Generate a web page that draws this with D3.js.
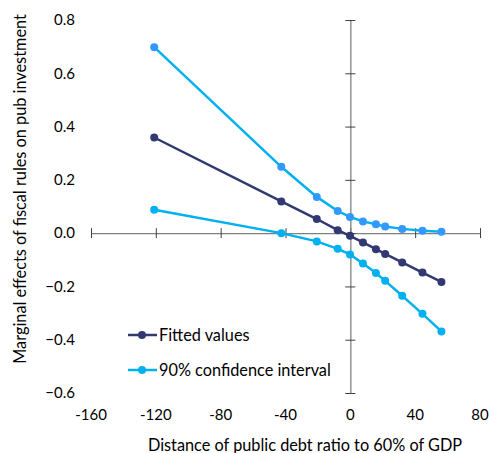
<!DOCTYPE html>
<html>
<head>
<meta charset="utf-8">
<script src="https://cdn.jsdelivr.net/npm/d3@7"></script>
<style>
  body { margin: 0; background: #fff; }
  text { font-family: Lato, "Open Sans", sans-serif; fill: #000; }
</style>
</head>
<body>
<div id="chart-container"></div>
<script>
// distance of debt ratio to 60% of GDP
const xVals = [-121, -42.6, -20.7, -7.8, -0.2, 7.8, 15.8, 21.5, 32, 44.5, 56.2];
const fitted = [0.359, 0.119, 0.053, 0.011, -0.01, -0.035, -0.06, -0.078, -0.11, -0.148, -0.183];
const upperCI = [0.698, 0.249, 0.136, 0.083, 0.061, 0.044, 0.033, 0.025, 0.016, 0.009, 0.005];
const lowerCI = [0.088, 0.0, -0.031, -0.059, -0.08, -0.114, -0.15, -0.179, -0.235, -0.303, -0.369];

const xTicks = [-160, -120, -80, -40, 0, 40, 80];
const yTicks = [0.8, 0.6, 0.4, 0.2, 0.0, -0.2, -0.4, -0.6];

const W = 489, H = 453;
const navy = "#313872", cyan = "#00b0f0", blueDot = "#3399ff";

const svg = d3.select("#chart-container")
    .append("svg")
    .attr("width", W)
    .attr("height", H);

const x = d3.scaleLinear().domain([-160, 80]).range([91, 480]);
const y = d3.scaleLinear().domain([-0.6, 0.8]).range([393, 20]);

// x axis line through zero, ticks crossing
svg.append("g")
    .attr("transform", `translate(0,${y(0) - 5})`)
    .call(d3.axisBottom(x).tickValues(xTicks).tickSize(10).tickSizeOuter(0).tickFormat(""))
    .call(g => g.select(".domain").attr("transform", "translate(0,5)").attr("stroke", "#808080").attr("stroke-width", 1.3))
    .call(g => g.selectAll(".tick line").attr("stroke", "#404040"));

// y axis line through zero
svg.append("g")
    .attr("transform", `translate(${x(0) + 5},0)`)
    .call(d3.axisLeft(y).tickValues(yTicks).tickSize(10).tickSizeOuter(0).tickFormat(""))
    .call(g => g.select(".domain").attr("transform", "translate(-5,0)").attr("stroke", "#808080").attr("stroke-width", 1.3))
    .call(g => g.selectAll(".tick line").attr("stroke", "#404040"));

// tick labels sit at the low end
svg.append("g").selectAll("text")
    .data(yTicks)
    .enter()
    .append("text")
    .attr("x", 75)
    .attr("y", d => y(d))
    .attr("dy", "0.35em")
    .attr("text-anchor", "end")
    .style("font-size", "15px")
    .text(d => d3.format(".1f")(d));

svg.append("g").selectAll("text")
    .data(xTicks)
    .enter()
    .append("text")
    .attr("x", d => x(d))
    .attr("y", 415)
    .attr("dy", "0.35em")
    .attr("text-anchor", "middle")
    .style("font-size", "15px")
    .text(d => d);

svg.append("text")
    .attr("x", 305)
    .attr("y", 445)
    .attr("dy", "0.35em")
    .attr("text-anchor", "middle")
    .style("font-size", "16.3px")
    .text("Distance of public debt ratio to 60% of GDP");

svg.append("text")
    .attr("transform", "translate(20,189) rotate(-90)")
    .attr("dy", "0.35em")
    .attr("text-anchor", "middle")
    .style("font-size", "16.3px")
    .text("Marginal effects of fiscal rules on pub investment");

const line = d3.line().x(d => x(d[0])).y(d => y(d[1]));

const series = [
    {vals: upperCI, stroke: cyan, dot: blueDot},
    {vals: lowerCI, stroke: cyan, dot: cyan},
    {vals: fitted, stroke: navy, dot: navy}
];

series.forEach(s => {
    const pts = xVals.map((v, i) => [v, s.vals[i]]);
    svg.append("path")
        .datum(pts)
        .attr("d", line)
        .attr("fill", "none")
        .attr("stroke", s.stroke)
        .attr("stroke-width", 2.5);
    svg.append("g").selectAll("circle")
        .data(pts)
        .enter()
        .append("circle")
        .attr("cx", d => x(d[0]))
        .attr("cy", d => y(d[1]))
        .attr("r", 4)
        .attr("fill", s.dot);
});

// legend
const legend = [
    {label: "Fitted values", color: navy, y: 335},
    {label: "90% confidence interval", color: cyan, y: 370}
];
legend.forEach(l => {
    svg.append("line")
        .attr("x1", 128).attr("x2", 157)
        .attr("y1", l.y).attr("y2", l.y)
        .attr("stroke", l.color)
        .attr("stroke-width", 2.5);
    svg.append("circle")
        .attr("cx", 142).attr("cy", l.y)
        .attr("r", 4)
        .attr("fill", l.color);
    svg.append("text")
        .attr("x", 159).attr("y", l.y)
        .attr("dy", "0.35em")
        .style("font-size", "16.3px")
        .text(l.label);
});
</script>
</body>
</html>
